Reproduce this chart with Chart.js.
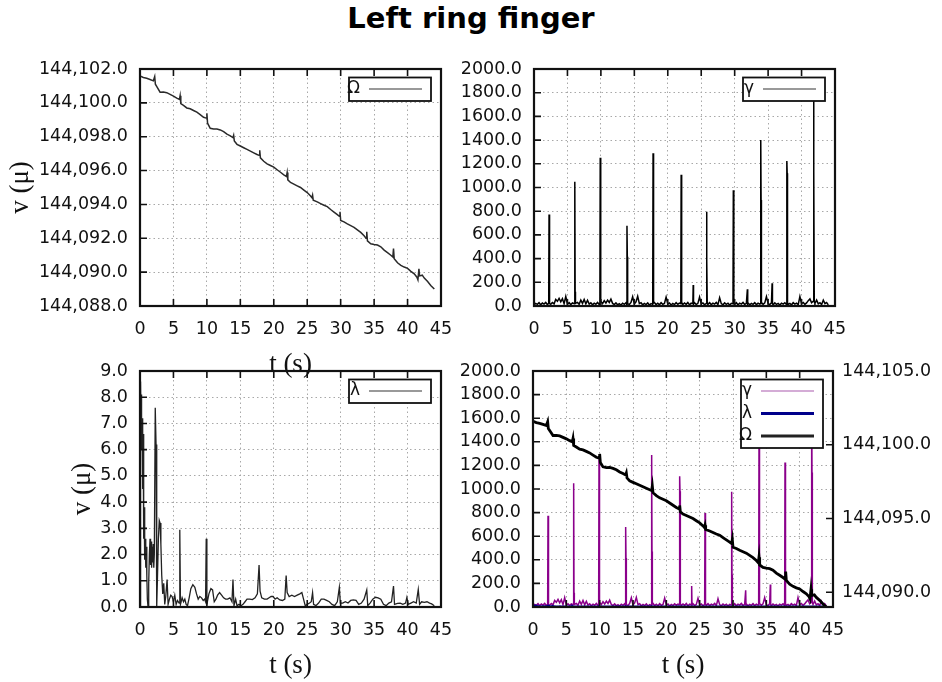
<!DOCTYPE html>
<html>
<head>
<meta charset="utf-8">
<title>Left ring finger</title>
<script src="https://cdn.jsdelivr.net/npm/chart.js@4.4.1/dist/chart.umd.min.js"></script>
<style>
  html, body { margin: 0; padding: 0; background: #fff; }
  #page { position: relative; width: 942px; height: 682px; overflow: hidden; background: #fff; }
  #page canvas { position: absolute; left: 0; top: 0; }
  #main-title {
    position: absolute; left: 0; top: 1px; width: 942px;
    text-align: center; font: bold 29px 'DejaVu Sans', sans-serif; line-height: 34px; color: #000;
  }
</style>
</head>
<body>
<div id="page">
  <div id="main-title">Left ring finger</div>
  <canvas id="omega-chart" width="942" height="682"></canvas>
  <canvas id="gamma-chart" width="942" height="682"></canvas>
  <canvas id="lambda-chart" width="942" height="682"></canvas>
  <canvas id="combined-chart" width="942" height="682"></canvas>
</div>
<script>
// axis ticks
const timeTicks = [0, 5, 10, 15, 20, 25, 30, 35, 40, 45];
const omegaTicks = [144088, 144090, 144092, 144094, 144096, 144098, 144100, 144102];
const gammaTicks = [0, 200, 400, 600, 800, 1000, 1200, 1400, 1600, 1800, 2000];
const lambdaTicks = [0, 1, 2, 3, 4, 5, 6, 7, 8, 9];
const omegaRightTicks = [144090, 144095, 144100, 144105];
const omegaRightRange = [144089, 144105];

// Ω  [t (s), v]
const omegaSeries = [
  [0, 144101.59], [0.5, 144101.5], [1.0, 144101.45], [1.5, 144101.38], [2.0, 144101.3], [2.2, 144101.55],
  [2.3, 144101.1], [2.6, 144100.9], [3.0, 144100.63], [3.5, 144100.64], [4.0, 144100.6], [4.5, 144100.5],
  [5.0, 144100.4], [5.5, 144100.28], [5.9, 144100.2], [6.0, 144100.42], [6.1, 144099.95], [6.5, 144099.85],
  [7.0, 144099.7], [7.5, 144099.65], [8.0, 144099.55], [8.5, 144099.45], [9.0, 144099.3], [9.5, 144099.15],
  [9.9, 144099.1], [10.0, 144099.38], [10.1, 144098.8], [10.5, 144098.5], [11.0, 144098.45], [11.5, 144098.46],
  [12.0, 144098.4], [12.5, 144098.3], [13.0, 144098.15], [13.5, 144098.05], [13.9, 144097.95], [14.0, 144098.08],
  [14.1, 144097.75], [14.5, 144097.55], [15.0, 144097.45], [15.5, 144097.35], [16.0, 144097.25], [16.5, 144097.15],
  [17.0, 144097.05], [17.5, 144096.95], [17.8, 144096.9], [17.9, 144097.2], [18.0, 144096.75], [18.5, 144096.55],
  [19.0, 144096.4], [19.5, 144096.3], [20.0, 144096.2], [20.5, 144096.05], [21.0, 144095.9], [21.5, 144095.75],
  [21.9, 144095.65], [22.0, 144095.88], [22.1, 144095.45], [22.5, 144095.3], [23.0, 144095.2], [23.5, 144095.1],
  [24.0, 144095.0], [24.5, 144094.85], [25.0, 144094.7], [25.5, 144094.5], [25.7, 144094.4], [25.8, 144094.55],
  [25.9, 144094.25], [26.5, 144094.15], [27.0, 144094.05], [27.5, 144093.95], [28.0, 144093.87], [28.5, 144093.7],
  [29.0, 144093.55], [29.5, 144093.4], [29.8, 144093.3], [29.9, 144093.57], [30.0, 144093.05], [30.5, 144092.97],
  [31.0, 144092.85], [31.5, 144092.75], [32.0, 144092.65], [32.5, 144092.5], [33.0, 144092.35], [33.5, 144092.15],
  [33.8, 144092.0], [33.9, 144092.38], [34.0, 144091.85], [34.5, 144091.68], [35.0, 144091.63], [35.5, 144091.6],
  [36.0, 144091.5], [36.5, 144091.3], [37.0, 144091.15], [37.5, 144091.0], [37.8, 144090.9], [37.9, 144091.4],
  [38.0, 144090.8], [38.5, 144090.55], [39.0, 144090.4], [39.5, 144090.3], [40.0, 144090.22], [40.5, 144090.05],
  [41.0, 144089.9], [41.4, 144089.7], [41.55, 144089.55], [41.7, 144090.2], [41.8, 144089.78], [42.2, 144089.82],
  [42.5, 144089.65], [43.0, 144089.45], [43.5, 144089.2], [44.0, 144089.0]
];

// γ  [t (s), v]
const gammaSeries = [
  [0, 8], [0.25, 22], [0.5, 14], [0.75, 28], [1.0, 10], [1.25, 25], [1.5, 16], [1.75, 30], [2.0, 12],
  [2.2, 24], [2.25, 773], [2.3, 360], [2.35, 20], [2.5, 14], [2.75, 30], [3.0, 18], [3.25, 55], [3.5, 40],
  [3.75, 65], [4.0, 35], [4.25, 62], [4.5, 20], [4.75, 80], [5.0, 15], [5.25, 28], [5.5, 12], [5.75, 26],
  [6.05, 20], [6.1, 1049], [6.15, 120], [6.2, 22], [6.5, 30], [6.75, 14], [7.0, 50], [7.25, 22], [7.5, 55],
  [7.75, 18], [8.0, 48], [8.25, 16], [8.5, 27], [8.75, 10], [9.0, 24], [9.25, 15], [9.5, 30], [9.75, 12],
  [9.85, 20], [9.9, 1252], [9.95, 730], [10.0, 40], [10.25, 20], [10.5, 45], [10.75, 25], [11.0, 50],
  [11.25, 30], [11.5, 58], [11.75, 22], [12.0, 12], [12.25, 26], [12.5, 10], [12.75, 20], [13.0, 8],
  [13.25, 24], [13.5, 14], [13.75, 28], [13.85, 15], [13.9, 678], [13.95, 416], [14.0, 20], [14.25, 12],
  [14.5, 30], [14.75, 78], [15.0, 18], [15.25, 35], [15.5, 82], [15.75, 20], [16.0, 28], [16.25, 10],
  [16.5, 22], [16.75, 12], [17.0, 26], [17.25, 8], [17.5, 20], [17.75, 14], [17.8, 1288], [17.85, 470],
  [17.9, 25], [18.0, 30], [18.25, 12], [18.5, 24], [18.75, 10], [19.0, 28], [19.25, 14], [19.5, 22],
  [19.75, 75], [20.0, 16], [20.25, 26], [20.5, 8], [20.75, 22], [21.0, 12], [21.25, 28], [21.5, 15],
  [21.75, 25], [21.95, 20], [22.0, 1108], [22.05, 980], [22.1, 30], [22.25, 12], [22.5, 26], [22.75, 14],
  [23.0, 30], [23.25, 10], [23.5, 24], [23.75, 20], [23.8, 177], [23.85, 15], [24.0, 28], [24.25, 12],
  [24.5, 22], [24.75, 75], [25.0, 18], [25.25, 26], [25.5, 10], [25.75, 22], [25.8, 796], [25.85, 380],
  [25.9, 20], [26.0, 14], [26.25, 28], [26.5, 12], [26.75, 24], [27.0, 16], [27.25, 30], [27.5, 12],
  [27.75, 70], [28.0, 20], [28.25, 10], [28.5, 26], [28.75, 14], [29.0, 24], [29.25, 8], [29.5, 22],
  [29.75, 18], [29.8, 976], [29.85, 275], [29.9, 22], [30.0, 14], [30.25, 28], [30.5, 10], [30.75, 24],
  [31.0, 16], [31.25, 30], [31.5, 12], [31.75, 22], [31.9, 141], [31.95, 18], [32.0, 26], [32.25, 10],
  [32.5, 22], [32.75, 14], [33.0, 28], [33.25, 12], [33.5, 24], [33.75, 16], [33.85, 20], [33.9, 1401],
  [33.95, 895], [34.0, 30], [34.25, 14], [34.5, 26], [34.75, 80], [35.0, 20], [35.25, 12], [35.5, 28],
  [35.6, 191], [35.65, 18], [35.75, 10], [36.0, 26], [36.25, 14], [36.5, 22], [36.75, 8], [37.0, 24],
  [37.25, 16], [37.5, 28], [37.75, 12], [37.8, 1224], [37.85, 1120], [37.9, 26], [38.0, 14], [38.25, 22],
  [38.5, 10], [38.75, 28], [39.0, 16], [39.25, 24], [39.5, 12], [39.75, 80], [40.0, 20], [40.25, 30],
  [40.5, 14], [40.75, 26], [41.0, 45], [41.25, 60], [41.5, 28], [41.75, 40], [41.8, 1850], [41.85, 1140],
  [41.9, 35], [42.0, 22], [42.25, 50], [42.5, 18], [42.75, 28], [43.0, 12], [43.25, 50], [43.5, 20],
  [43.75, 30], [44.0, 10]
];

// λ  [t (s), v]
const lambdaSeries = [
  [0, 0], [0.08, 8.6], [0.15, 7.0], [0.2, 8.1], [0.27, 6.0], [0.33, 7.2], [0.4, 4.5], [0.47, 6.6],
  [0.55, 2.6], [0.62, 3.8], [0.7, 1.8], [0.78, 2.6], [0.86, 1.5], [0.94, 2.3], [1.02, 1.2], [1.1, 0.3],
  [1.2, 0.0], [1.3, 0.9], [1.4, 2.0], [1.5, 2.6], [1.58, 1.6], [1.66, 2.5], [1.74, 1.5], [1.82, 2.3],
  [1.9, 1.7], [1.98, 2.4], [2.06, 1.5], [2.14, 2.0], [2.28, 7.6], [2.4, 6.2], [2.5, 0.0], [2.62, 1.2],
  [2.75, 2.6], [2.88, 3.3], [3.0, 3.2], [3.12, 2.4], [3.25, 1.2], [3.4, 0.5], [3.55, 0.9], [3.7, 0.1],
  [3.85, 0.4], [4.05, 1.05], [4.2, 0.1], [4.4, 0.3], [4.6, 0.45], [4.8, 0.4], [5.0, 0.2], [5.2, 0.45],
  [5.4, 0.1], [5.6, 0.25], [5.85, 0.15], [5.95, 2.95], [6.05, 0.1], [6.3, 0.35], [6.5, 0.2], [6.7, 0.3],
  [6.9, 0.1], [7.1, 0.05], [7.35, 0.35], [7.6, 0.7], [7.9, 0.85], [8.2, 0.75], [8.45, 0.5], [8.7, 0.3],
  [8.95, 0.4], [9.2, 0.35], [9.45, 0.25], [9.65, 0.3], [9.8, 0.2], [9.9, 2.6], [10.0, 0.1], [10.3, 0.5],
  [10.6, 0.7], [10.85, 0.65], [11.1, 0.2], [11.35, 0.3], [11.6, 0.45], [11.9, 0.55], [12.2, 0.45],
  [12.5, 0.35], [12.8, 0.3], [13.1, 0.3], [13.45, 0.35], [13.75, 0.2], [13.9, 1.05], [14.05, 0.05],
  [14.3, 0.3], [14.5, 0.05], [14.8, 0.1], [15.1, 0.05], [15.4, 0.1], [15.7, 0.2], [16.0, 0.3], [16.4, 0.3],
  [16.8, 0.28], [17.2, 0.35], [17.55, 0.5], [17.8, 1.6], [17.95, 0.6], [18.2, 0.35], [18.6, 0.3],
  [19.0, 0.3], [19.3, 0.35], [19.6, 0.4], [19.9, 0.4], [20.2, 0.3], [20.5, 0.35], [20.9, 0.27],
  [21.3, 0.25], [21.65, 0.3], [21.85, 1.2], [22.0, 0.55], [22.3, 0.4], [22.7, 0.45], [23.1, 0.4],
  [23.5, 0.45], [23.9, 0.5], [24.2, 0.55], [24.45, 0.3], [24.7, 0.05], [25.0, 0.1], [25.35, 0.15],
  [25.6, 0.2], [25.8, 0.55], [25.95, 0.1], [26.3, 0.05], [26.7, 0.15], [27.1, 0.3], [27.5, 0.3],
  [27.9, 0.25], [28.3, 0.2], [28.7, 0.1], [29.1, 0.05], [29.5, 0.2], [29.8, 0.75], [29.95, 0.15],
  [30.3, 0.15], [30.7, 0.2], [31.1, 0.15], [31.5, 0.25], [31.9, 0.27], [32.3, 0.25], [32.7, 0.1],
  [33.1, 0.15], [33.5, 0.3], [33.9, 0.65], [34.05, 0.05], [34.4, 0.15], [34.8, 0.3], [35.2, 0.37],
  [35.6, 0.35], [36.0, 0.3], [36.4, 0.1], [36.8, 0.05], [37.2, 0.15], [37.6, 0.2], [37.9, 0.8],
  [38.05, 0.1], [38.5, 0.14], [38.9, 0.15], [39.3, 0.1], [39.7, 0.15], [39.9, 0.37], [40.1, 0.1],
  [40.5, 0.15], [40.9, 0.2], [41.3, 0.15], [41.6, 0.67], [41.8, 0.1], [42.1, 0.2], [42.5, 0.18],
  [42.9, 0.2], [43.3, 0.15], [43.6, 0.12], [44.0, 0.05]
];

const TICK_FONT = { family: 'DejaVu Sans', size: 17.5 };
const TITLE_FONT = { family: 'Liberation Serif', size: 27, lineHeight: 1 };
const GRID_COLOR = '#a8a8a8';
const INK = '#111';

const toPoints = rows => rows.map(([x, y]) => ({ x, y }));
const fixed1 = v => v.toFixed(1);
const grouped1 = v => v.toLocaleString('en-US', { minimumFractionDigits: 1, maximumFractionDigits: 1 });

// gnuplot-like frame: inward ticks, closed border and an opaque key box
const frameKey = {
    id: 'frameKey',
    afterDatasetsDraw(chart) {
        const { ctx, chartArea: a, scales } = chart;
        const tl = 7;
        ctx.save();
        ctx.strokeStyle = INK;
        ctx.lineWidth = 1.6;
        ctx.beginPath();
        scales.x.ticks.forEach(t => {
            const px = scales.x.getPixelForValue(t.value);
            ctx.moveTo(px, a.bottom); ctx.lineTo(px, a.bottom - tl);
            ctx.moveTo(px, a.top); ctx.lineTo(px, a.top + tl);
        });
        scales.y.ticks.forEach(t => {
            const py = scales.y.getPixelForValue(t.value);
            ctx.moveTo(a.left, py); ctx.lineTo(a.left + tl, py);
        });
        if (scales.y2) {
            scales.y2.ticks.forEach(t => {
                const py = scales.y2.getPixelForValue(t.value);
                ctx.moveTo(a.right, py); ctx.lineTo(a.right - tl, py);
            });
        }
        ctx.stroke();
        ctx.lineWidth = 2.2;
        ctx.strokeRect(a.left, a.top, a.width, a.height);

        const items = chart.data.datasets;
        const boxW = 82, rowH = 22.5;
        const bx = a.right - 10 - boxW, by = a.top + 8.5;
        const bh = rowH * items.length + 1;
        ctx.fillStyle = '#fff';
        ctx.fillRect(bx, by, boxW, bh);
        ctx.lineWidth = 1.8;
        ctx.strokeStyle = INK;
        ctx.strokeRect(bx, by, boxW, bh);
        ctx.font = '17px "DejaVu Sans"';
        ctx.textAlign = 'right';
        ctx.textBaseline = 'middle';
        items.forEach((ds, i) => {
            const cy = by + 11.5 + i * rowH;
            ctx.fillStyle = INK;
            ctx.fillText(ds.label, bx + 11, cy);
            ctx.strokeStyle = ds.keyColor || ds.borderColor;
            ctx.lineWidth = ds.borderWidth;
            ctx.beginPath();
            ctx.moveTo(bx + 20, cy);
            ctx.lineTo(bx + 73, cy);
            ctx.stroke();
        });
        ctx.restore();
    }
};

function timeAxis(showTitle) {
    return {
        type: 'linear',
        min: timeTicks[0],
        max: timeTicks[timeTicks.length - 1],
        afterBuildTicks: s => { s.ticks = timeTicks.map(v => ({ value: v })); },
        afterFit: s => { s.height = 75; },
        grid: { color: GRID_COLOR, lineWidth: 1, drawTicks: false },
        border: { display: false, dash: [1.5, 3] },
        ticks: { color: INK, font: TICK_FONT, padding: 13, maxRotation: 0, autoSkip: false },
        title: { display: showTitle, text: 't (s)', font: TITLE_FONT, color: INK, padding: { top: 0, bottom: 3 } }
    };
}

function valueAxis({ position = 'left', ticks, range, format, width, title, titlePad = 0, grid = true }) {
    return {
        type: 'linear',
        position,
        min: range ? range[0] : ticks[0],
        max: range ? range[1] : ticks[ticks.length - 1],
        afterBuildTicks: s => { s.ticks = ticks.map(v => ({ value: v })); },
        afterFit: s => { s.width = width; },
        grid: { color: GRID_COLOR, lineWidth: 1, drawTicks: false, drawOnChartArea: grid },
        border: { display: false, dash: [1.5, 3] },
        ticks: { color: INK, font: TICK_FONT, padding: position === 'left' ? 12 : 9, autoSkip: false, callback: format },
        title: { display: !!title, text: title || '', font: TITLE_FONT, color: INK, padding: { top: titlePad, bottom: 0 } }
    };
}

function drawPanel(id, padding, datasets, scales) {
    const ctx = document.getElementById(id).getContext('2d');
    return new Chart(ctx, {
        type: 'line',
        data: { datasets },
        options: {
            responsive: false,
            animation: false,
            devicePixelRatio: 1,
            layout: { padding },
            elements: { point: { radius: 0 }, line: { tension: 0 } },
            plugins: { legend: { display: false }, tooltip: { enabled: false } },
            scales
        },
        plugins: [frameKey]
    });
}

Chart.defaults.font.family = 'DejaVu Sans';

drawPanel('omega-chart', { left: 0, top: 69, right: 501, bottom: 301 },
    [{ label: 'Ω', data: toPoints(omegaSeries), borderColor: '#2a2a2a', keyColor: '#777', borderWidth: 1.5 }],
    {
        x: timeAxis(true),
        y: valueAxis({ ticks: omegaTicks, format: grouped1, width: 140, title: 'v (μ)', titlePad: 7.5 })
    });

drawPanel('gamma-chart', { left: 434, top: 69, right: 107, bottom: 301 },
    [{ label: 'γ', data: toPoints(gammaSeries), borderColor: '#000', keyColor: '#777', borderWidth: 1.5 }],
    {
        x: timeAxis(false),
        y: valueAxis({ ticks: gammaTicks, format: fixed1, width: 100 })
    });

drawPanel('lambda-chart', { left: 60, top: 371, right: 501, bottom: 0 },
    [{ label: 'λ', data: toPoints(lambdaSeries), borderColor: '#222', keyColor: '#777', borderWidth: 1.3 }],
    {
        x: timeAxis(true),
        y: valueAxis({ ticks: lambdaTicks, format: fixed1, width: 80, title: 'v (μ)', titlePad: 9.5 })
    });

drawPanel('combined-chart', { left: 433, top: 371, right: 0, bottom: 0 },
    [
        { label: 'γ', data: toPoints(gammaSeries), borderColor: '#8b008b', keyColor: '#c690c8', borderWidth: 1.5, yAxisID: 'y', order: 3 },
        { label: 'λ', data: toPoints(lambdaSeries), borderColor: '#00008b', borderWidth: 3, yAxisID: 'y', order: 2 },
        { label: 'Ω', data: toPoints(omegaSeries), borderColor: '#000', keyColor: '#222', borderWidth: 2.8, yAxisID: 'y2', order: 1 }
    ],
    {
        x: timeAxis(true),
        y: valueAxis({ ticks: gammaTicks, format: fixed1, width: 100 }),
        y2: valueAxis({ position: 'right', ticks: omegaRightTicks, range: omegaRightRange, format: grouped1, width: 109, grid: false })
    });
</script>
</body>
</html>
